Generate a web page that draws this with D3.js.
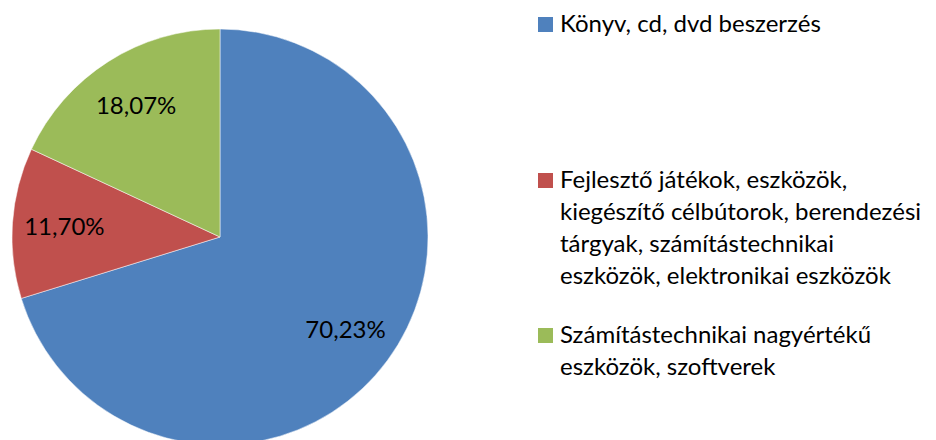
<!DOCTYPE html>
<html><head><meta charset="utf-8">
<script src="https://cdn.jsdelivr.net/npm/d3@7"></script>
<style>body{margin:0;background:#fff}svg{display:block}text{font-family:Lato,"Open Sans",sans-serif}</style>
</head><body>
<svg id="c" width="936" height="440"></svg>
<script>
const categories = ["Könyv, cd, dvd beszerzés","Fejlesztő játékok, eszközök, kiegészítő célbútorok, berendezési tárgyak, számítástechnikai eszközök, elektronikai eszközök","Számítástechnikai nagyértékű eszközök, szoftverek"];
const values = [70.23, 11.70, 18.07];
const legendLines = [
  ["Könyv, cd, dvd beszerzés"],
  ["Fejlesztő játékok, eszközök,","kiegészítő célbútorok, berendezési","tárgyak, számítástechnikai","eszközök, elektronikai eszközök"],
  ["Számítástechnikai nagyértékű","eszközök, szoftverek"]
];
const colors = ["#4F81BD","#C0504D","#9BBB59"];

const svg = d3.select("#c");
const cx = 220, cy = 237, R = 208;
const pie = d3.pie().sort(null).value(d=>d)(values);
const arc = d3.arc().innerRadius(0).outerRadius(R);
const labelArc = d3.arc().innerRadius(R*0.75).outerRadius(R*0.75);
const g = svg.append("g").attr("transform",`translate(${cx},${cy})`);
g.selectAll("path").data(pie).join("path")
  .attr("d",arc).attr("fill",(d,i)=>colors[i])
  .attr("stroke","#fff").attr("stroke-width",0.5);
const fmt = v => v.toFixed(2).replace(".",",")+"%";
g.selectAll("text").data(pie).join("text")
  .attr("transform",d=>`translate(${labelArc.centroid(d)})`)
  .attr("text-anchor","middle").attr("dy","0.35em")
  .attr("font-size",24).attr("fill","#000")
  .text(d=>fmt(d.data));

const lg = svg.append("g");
const startY = [32, 188, 343];
const lineH = 32;
legendLines.forEach((lines,i)=>{
  lg.append("rect").attr("x",538).attr("y",startY[i]-15).attr("width",15).attr("height",15).attr("fill",colors[i]);
  lines.forEach((t,j)=>{
    lg.append("text").attr("x",560).attr("y",startY[i]+j*lineH)
      .attr("font-size",24).attr("fill","#000").text(t);
  });
});
</script>
</body></html>
